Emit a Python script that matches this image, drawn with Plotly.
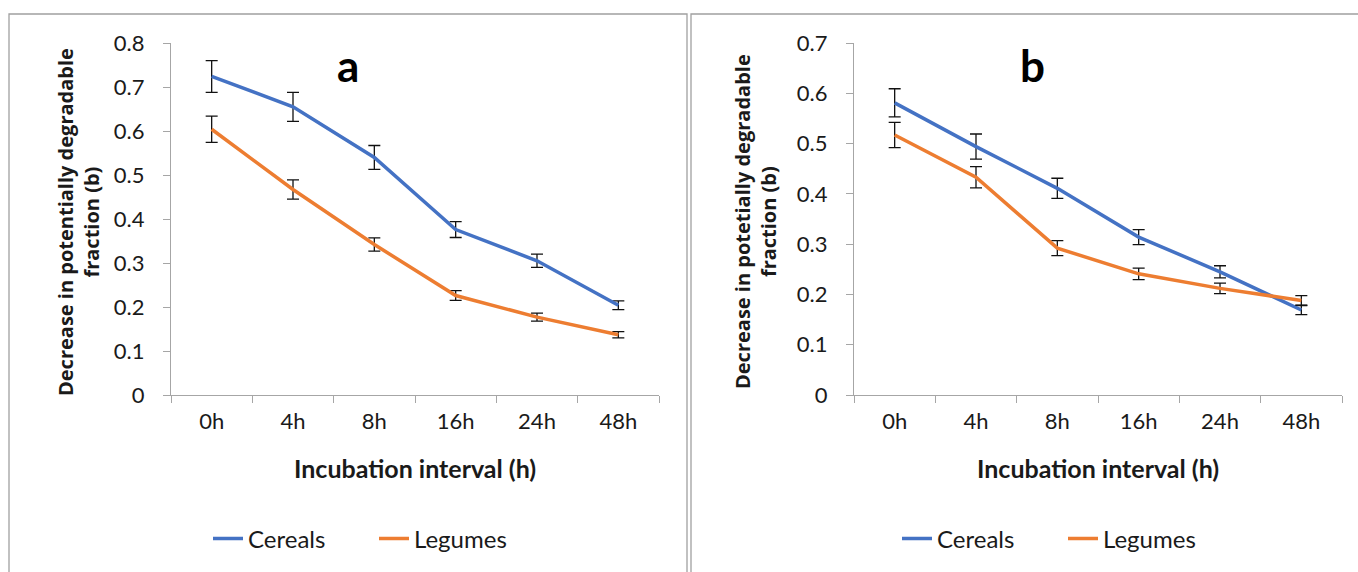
import plotly.graph_objects as go

W, H = 1358, 572

categories = ["0h", "4h", "8h", "16h", "24h", "48h"]

# Panel a
a_cereals = [0.724, 0.655, 0.540, 0.376, 0.305, 0.204]
a_cereals_err = [0.036, 0.033, 0.027, 0.018, 0.015, 0.010]
a_legumes = [0.604, 0.467, 0.342, 0.226, 0.177, 0.137]
a_legumes_err = [0.030, 0.022, 0.015, 0.011, 0.009, 0.007]

# Panel b
b_cereals = [0.581, 0.494, 0.411, 0.314, 0.245, 0.169]
b_cereals_err = [0.028, 0.025, 0.020, 0.015, 0.012, 0.009]
b_legumes = [0.517, 0.433, 0.292, 0.241, 0.212, 0.188]
b_legumes_err = [0.025, 0.021, 0.015, 0.0115, 0.0105, 0.0095]

BLUE = "#4472C4"
ORANGE = "#ED7D31"
AXIS = "#a6a6a6"
TXT = "#1a1a1a"
FONT = "Lato"


def px_x(p):
    return p / W


def px_y(p):
    return 1 - p / H


fig = go.Figure()


def add_series(x_axis, y_axis, yvals, errs, name, color, legend):
    fig.add_trace(go.Scatter(
        x=categories, y=yvals, name=name, mode="lines",
        line=dict(color=color, width=3.5),
        error_y=dict(type="data", array=errs, visible=True,
                     color="#111111", thickness=1.3, width=6),
        xaxis=x_axis, yaxis=y_axis, legend=legend,
    ))


add_series("x", "y", a_cereals, a_cereals_err, "Cereals", BLUE, "legend")
add_series("x", "y", a_legumes, a_legumes_err, "Legumes", ORANGE, "legend")
add_series("x2", "y2", b_cereals, b_cereals_err, "Cereals", BLUE, "legend2")
add_series("x2", "y2", b_legumes, b_legumes_err, "Legumes", ORANGE, "legend2")

ydom = [px_y(395), px_y(43)]
xa_dom = [px_x(171), px_x(659)]
xb_dom = [px_x(854), px_x(1342)]

xcommon = dict(
    type="category", range=[-0.5, 5.5], showline=True, linecolor=AXIS,
    linewidth=1.3, ticks="outside", tickson="boundaries", ticklen=7,
    tickcolor=AXIS, tickwidth=1.3, showgrid=False, zeroline=False,
    tickfont=dict(family=FONT, size=22, color=TXT), ticklabelstandoff=6,
    fixedrange=True, automargin=False,
)
ycommon = dict(
    showline=True, linecolor=AXIS, linewidth=1.3, ticks="outside",
    ticklen=7, tickcolor=AXIS, tickwidth=1.3, showgrid=False,
    zeroline=False, dtick=0.1, tickformat="~g",
    tickfont=dict(family=FONT, size=22, color=TXT), ticklabelstandoff=14,
    fixedrange=True, automargin=False,
)

legend_common = dict(
    orientation="h", xanchor="left", yanchor="middle",
    font=dict(family=FONT, size=24, color=TXT),
    entrywidth=121, entrywidthmode="pixels",
    bgcolor="rgba(0,0,0,0)", itemclick=False, itemdoubleclick=False,
)

fig.update_layout(
    width=W, height=H, autosize=False,
    margin=dict(l=0, r=0, t=0, b=0, pad=0, autoexpand=False),
    paper_bgcolor="white", plot_bgcolor="white",
    font=dict(family=FONT, color=TXT),
    xaxis=dict(domain=xa_dom, anchor="y", **xcommon),
    yaxis=dict(domain=ydom, anchor="x", range=[0, 0.8], **ycommon),
    xaxis2=dict(domain=xb_dom, anchor="y2", **xcommon),
    yaxis2=dict(domain=ydom, anchor="x2", range=[0, 0.7], **ycommon),
    legend=dict(x=px_x(208), y=px_y(539), **legend_common),
    legend2=dict(x=px_x(897), y=px_y(539), **legend_common),
    showlegend=True,
)

shapes = [
    dict(type="rect", xref="paper", yref="paper", x0=px_x(9), x1=px_x(687),
         y0=px_y(590), y1=px_y(14), line=dict(color="#a0a0a0", width=1.3),
         layer="below"),
    dict(type="rect", xref="paper", yref="paper", x0=px_x(691), x1=px_x(1375),
         y0=px_y(590), y1=px_y(14), line=dict(color="#a0a0a0", width=1.3),
         layer="below"),
]
fig.update_layout(shapes=shapes)

ytitle_font = dict(family="Open Sans", size=20, color=TXT)
xtitle_font = dict(family=FONT, size=25, color=TXT)
annotations = [
    dict(text="<b>a</b>", x=px_x(348), y=px_y(65), xref="paper", yref="paper",
         showarrow=False, font=dict(family=FONT, size=44, color="#000"),
         xanchor="center", yanchor="middle"),
    dict(text="<b>b</b>", x=px_x(1032), y=px_y(65), xref="paper", yref="paper",
         showarrow=False, font=dict(family=FONT, size=44, color="#000"),
         xanchor="center", yanchor="middle"),
    dict(text="<b>Incubation interval (h)</b>", x=px_x(415), y=px_y(468),
         xref="paper", yref="paper", showarrow=False, font=xtitle_font,
         xanchor="center", yanchor="middle"),
    dict(text="<b>Incubation interval (h)</b>", x=px_x(1098), y=px_y(468),
         xref="paper", yref="paper", showarrow=False, font=xtitle_font,
         xanchor="center", yanchor="middle"),
    dict(text="<b>Decrease in potentially degradable<br>fraction (b)</b>",
         x=px_x(78), y=px_y(222), xref="paper", yref="paper",
         showarrow=False, textangle=-90, font=ytitle_font,
         xanchor="center", yanchor="middle"),
    dict(text="<b>Decrease in potetially degradable<br>fraction (b)</b>",
         x=px_x(755), y=px_y(222), xref="paper", yref="paper",
         showarrow=False, textangle=-90, font=ytitle_font,
         xanchor="center", yanchor="middle"),
]
fig.update_layout(annotations=annotations)

fig.write_html(
    "out.html",
    config={"responsive": False, "displayModeBar": False},
    post_script="document.body.style.margin='0';"
                "document.body.style.overflow='hidden';",
)
